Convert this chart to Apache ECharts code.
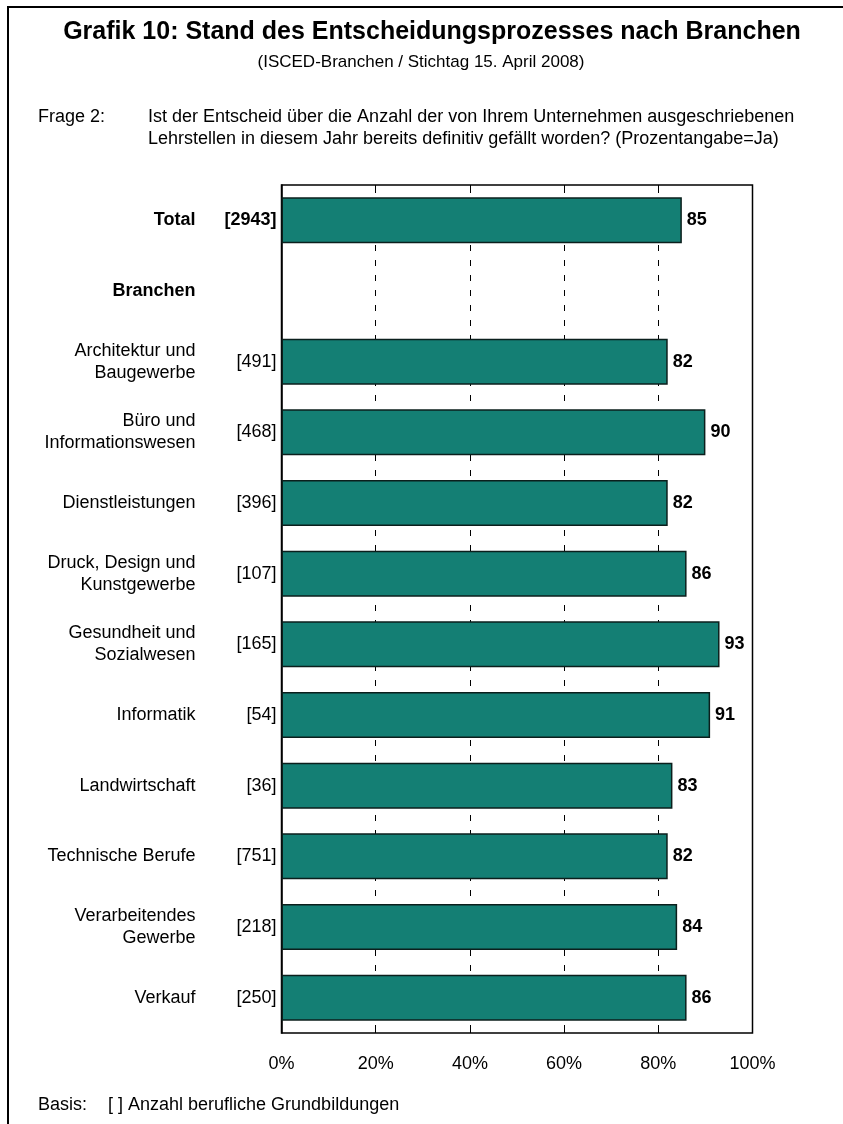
<!DOCTYPE html>
<html>
<head>
<meta charset="utf-8">
<script src="https://cdn.jsdelivr.net/npm/echarts@6/dist/echarts.min.js"></script>
<style>
  html, body { margin: 0; padding: 0; background: #fff; }
  #chart { width: 843px; height: 1124px; }
</style>
</head>
<body>
<div id="chart"></div>
<script>
// Branchen (row labels), base counts and share of "Ja" answers in percent
const categories = [
  'Total',
  'Branchen',
  'Architektur und\nBaugewerbe',
  'Büro und\nInformationswesen',
  'Dienstleistungen',
  'Druck, Design und\nKunstgewerbe',
  'Gesundheit und\nSozialwesen',
  'Informatik',
  'Landwirtschaft',
  'Technische Berufe',
  'Verarbeitendes\nGewerbe',
  'Verkauf'
];
const counts = ['[2943]', '', '[491]', '[468]', '[396]', '[107]', '[165]', '[54]', '[36]', '[751]', '[218]', '[250]'];
const shareYes = [85, null, 82, 90, 82, 86, 93, 91, 83, 82, 84, 86];
const xTicks = [0, 20, 40, 60, 80, 100];
const headingRows = ['Total', 'Branchen'];

const FONT = '"Liberation Sans", Arial, Helvetica, sans-serif';
const isHeading = (i) => headingRows.indexOf(categories[i]) >= 0;

const chart = echarts.init(document.getElementById('chart'), null, { renderer: 'canvas' });

const valueAxisBase = {
  type: 'value',
  min: xTicks[0],
  max: xTicks[xTicks.length - 1],
  interval: xTicks[1] - xTicks[0],
  axisLine: { show: false }
};

const boldRich = { b: { fontWeight: 'bold', fontSize: 18, color: '#000', fontFamily: FONT } };

function textEl(x, y, text, size, align, bold) {
  return {
    type: 'text', x: x, y: y, silent: true,
    style: {
      text: text, fontSize: size, fontWeight: bold ? 'bold' : 'normal', fontFamily: FONT, fill: '#000',
      align: align, verticalAlign: 'middle', textAlign: align, textVerticalAlign: 'middle'
    }
  };
}

const option = {
  animation: false,
  backgroundColor: '#fff',
  textStyle: { fontFamily: FONT },
  grid: {
    left: 281.5, right: 90.5, top: 185, bottom: 91,
    show: true, borderColor: '#000', borderWidth: 1.5,
    backgroundColor: 'transparent'
  },
  xAxis: [
    Object.assign({}, valueAxisBase, {
      position: 'bottom',
      axisTick: { show: true, inside: true, length: 8, lineStyle: { color: '#000', width: 1 } },
      axisLabel: {
        formatter: '{value}%', fontSize: 18, color: '#000', margin: 22, fontFamily: FONT
      },
      splitLine: { show: true, lineStyle: { color: '#000', width: 1, type: [6, 9] } }
    }),
    Object.assign({}, valueAxisBase, {
      position: 'top',
      axisTick: { show: true, inside: true, length: 8, lineStyle: { color: '#000', width: 1 } },
      axisLabel: { show: false },
      splitLine: { show: false }
    })
  ],
  yAxis: [
    {
      // count column, right next to the axis
      type: 'category',
      position: 'left',
      data: categories,
      inverse: true,
      axisLine: { show: true, lineStyle: { color: '#000', width: 1.5 } },
      axisTick: { show: false },
      axisLabel: {
        margin: 5, fontSize: 18, color: '#000', fontFamily: FONT,
        formatter: (v, i) => isHeading(i) && counts[i] ? '{b|' + counts[i] + '}' : counts[i],
        rich: boldRich
      }
    },
    {
      // branch names column
      type: 'category',
      position: 'left',
      data: categories,
      inverse: true,
      axisLine: { show: false },
      axisTick: { show: false },
      axisLabel: {
        margin: 86, fontSize: 18, lineHeight: 22, color: '#000', fontFamily: FONT,
        formatter: (v, i) => isHeading(i) ? '{b|' + v + '}' : v,
        rich: boldRich
      }
    }
  ],
  series: [{
    type: 'bar',
    xAxisIndex: 0,
    yAxisIndex: 0,
    data: shareYes,
    barWidth: 46,
    itemStyle: { color: '#147F74', borderColor: '#0b1f1c', borderWidth: 1.5 },
    label: {
      show: true, position: 'right', distance: 5,
      fontSize: 18, fontWeight: 'bold', color: '#000', fontFamily: FONT
    },
    z: 3
  }],
  graphic: [
    {
      type: 'rect', silent: true,
      shape: { x: 8, y: 7, width: 1000, height: 1400 },
      style: { fill: 'none', stroke: '#000', lineWidth: 2 }
    },
    textEl(432, 32, 'Grafik 10: Stand des Entscheidungsprozesses nach Branchen', 25, 'center', true),
    textEl(421, 62, '(ISCED-Branchen / Stichtag 15. April 2008)', 17, 'center', false),
    textEl(38, 117, 'Frage 2:', 18, 'left', false),
    textEl(148, 117, 'Ist der Entscheid über die Anzahl der von Ihrem Unternehmen ausgeschriebenen', 18, 'left', false),
    textEl(148, 139, 'Lehrstellen in diesem Jahr bereits definitiv gefällt worden? (Prozentangabe=Ja)', 18, 'left', false),
    textEl(38, 1105, 'Basis:', 18, 'left', false),
    textEl(108, 1105, '[ ] Anzahl berufliche Grundbildungen', 18, 'left', false)
  ]
};

chart.setOption(option);
</script>
</body>
</html>
